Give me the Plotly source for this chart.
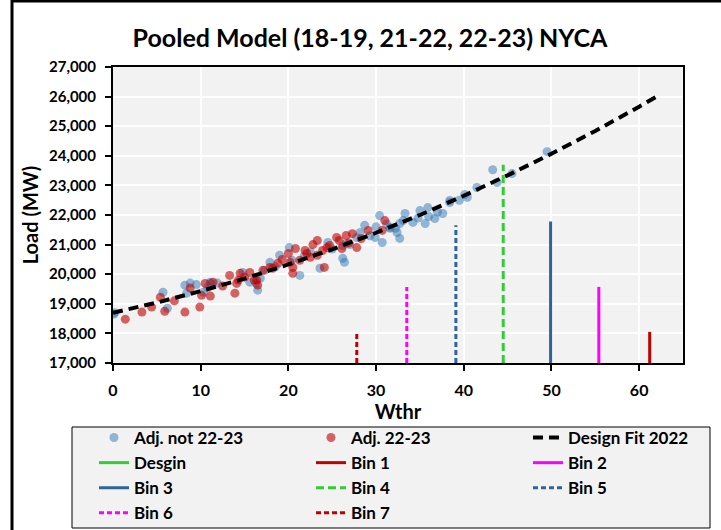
import plotly.graph_objects as go

# ---- data ----
blue_x = [0.2, 0.1, 5.7, 6.2, 8.2, 8.8, 8.4, 9.5, 10.3, 10.8, 11.1, 11.9, 11.1, 14.8, 16.5, 16.3,
          15.6, 16.8, 17.3, 17.9, 18.5, 19.0, 20.1, 20.4, 21.3, 21.8, 22.5, 23.6, 24.5, 25.0,
          26.2, 26.4, 26.2, 26.6, 27.0, 27.8, 28.2, 28.7, 29.3, 29.9, 30.0, 30.4, 30.7, 31.2,
          31.6, 31.6, 32.2, 32.4, 32.7, 32.7, 33.1, 33.3, 34.2, 34.8, 35.0, 35.6, 35.9, 36.0,
          36.7, 37.0, 37.6, 38.4, 38.4, 39.5, 40.1, 40.4, 41.5, 43.3, 43.8, 45.5, 49.5]
blue_y = [18700, 18650, 19390, 18850, 19630, 19700, 19360, 19650, 19390, 19550, 19690, 19700, 19730,
          20060, 19460, 19700, 19730, 19860, 20130, 20400, 20250, 20640, 20900, 20470, 19960, 20600,
          20750, 20200, 21070, 20850, 20970, 20400, 20540, 21040, 21000, 21240, 21410, 21650, 21300,
          21240, 21600, 21980, 21070, 21700, 21550, 21580, 21550, 21410, 21710, 21210, 21810, 22050,
          21750, 21900, 22150, 21710, 22250, 21950, 21880, 22100, 22050, 22420, 22490, 22500, 22690,
          22600, 22930, 23530, 23100, 23400, 24140]

red_x = [1.4, 3.3, 4.4, 5.4, 5.9, 7.0, 8.2, 8.8, 9.9, 10.5, 10.1, 11.1, 11.4, 12.5, 13.3, 13.9,
         14.1, 14.3, 14.5, 15.0, 15.6, 16.1, 16.4, 16.5, 17.1, 17.9, 18.2, 18.8, 19.3, 20.0, 20.2,
         20.5, 20.5, 20.8, 21.3, 21.9, 22.1, 22.5, 22.8, 23.3, 23.3, 23.9, 24.1, 24.7, 24.4, 25.5,
         25.8, 26.1, 26.6, 26.9, 27.3, 27.8, 28.3, 29.1, 30.7, 31.0]
red_y = [18480, 18720, 18890, 19220, 18750, 19100, 18720, 19530, 18890, 19690, 19290, 19260, 19730,
         19600, 19960, 19360, 19690, 19800, 20030, 19900, 20060, 19800, 19800, 19630, 20130, 20230,
         20200, 20370, 20500, 20700, 20400, 20030, 20230, 20870, 20470, 20800, 20700, 20570, 21000,
         21140, 20640, 20800, 20230, 20970, 20900, 21240, 21140, 20870, 21310, 21050, 21370, 20900,
         21200, 21480, 21480, 21810]

fit_x = [0, 5, 10, 15, 20, 25, 30, 35, 40, 45, 50, 55, 60, 62]
fit_y = [18700, 19040, 19430, 19850, 20330, 20840, 21400, 22000, 22650, 23340, 24070, 24840, 25660, 26000]

bin_names = ["Desgin", "Bin 1", "Bin 2", "Bin 3", "Bin 4", "Bin 5", "Bin 6", "Bin 7"]
bin_x = [44.5, 61.2, 55.4, 49.9, 44.5, 39.1, 33.5, 27.8]
bin_top = [17050, 18050, 19570, 21780, 23700, 21650, 19570, 18050]
bin_bottom = 17000

x_ticks = [0, 10, 20, 30, 40, 50, 60]
y_ticks = [17000, 18000, 19000, 20000, 21000, 22000, 23000, 24000, 25000, 26000, 27000]

# ---- styles ----
bin_colors = ["#33cc33", "#c00000", "#ff00ff", "#2f6497", "#33cc33", "#2f6497", "#ff00ff", "#c00000"]
bin_dash = ["solid", "solid", "solid", "solid", "8px,4px", "5px,3px", "5px,3px", "5px,3px"]
bin_col = [0, 1, 2, 0, 1, 2, 0, 1]
COLW = [172, 172, 135]

FONT = "Lato"

def b(t):
    return f"<b>{t}</b>"

fig = go.Figure()
fig.add_trace(go.Scatter(x=blue_x, y=blue_y, mode="markers", name=b("Adj. not 22-23"),
                         legendwidth=COLW[0],
                         marker=dict(size=9, color="rgba(46,117,182,0.5)", line=dict(width=0))))
fig.add_trace(go.Scatter(x=red_x, y=red_y, mode="markers", name=b("Adj. 22-23"),
                         legendwidth=COLW[1],
                         marker=dict(size=9, color="rgba(192,0,0,0.6)", line=dict(width=0))))
fig.add_trace(go.Scatter(x=fit_x, y=fit_y, mode="lines", name=b("Design Fit 2022"),
                         legendwidth=COLW[2],
                         line=dict(color="black", width=4, dash="10px,6px")))
for n, bx, bt, c, d, col in zip(bin_names, bin_x, bin_top, bin_colors, bin_dash, bin_col):
    fig.add_trace(go.Scatter(x=[bx, bx], y=[bin_bottom, bt], mode="lines", name=b(n),
                             legendwidth=COLW[col],
                             line=dict(color=c, width=3, dash=d)))

L, R, T, B = 113, 38, 67, 167
W, H = 721, 530
pw, ph = W - L - R, H - T - B

def px_x(p):
    return (p - L) / pw

def px_y(p):
    return (H - B - p) / ph

fig.update_layout(
    width=W, height=H,
    margin=dict(l=L, r=R, t=T, b=B, autoexpand=False),
    paper_bgcolor="white",
    plot_bgcolor="#f2f2f2",
    font=dict(family=FONT, color="black"),
    title=dict(text=b("Pooled Model (18-19, 21-22, 22-23) NYCA"),
               x=370 / W, xanchor="center", y=1 - 38 / H, yanchor="middle",
               font=dict(size=25, family=FONT, color="black")),
    showlegend=True,
    legend=dict(orientation="h", x=px_x(94), xanchor="left", y=px_y(420), yanchor="top",
                bgcolor="rgba(0,0,0,0)", borderwidth=0,
                font=dict(size=17, family=FONT, color="black"), traceorder="normal"),
    shapes=[
        dict(type="rect", xref="paper", yref="paper",
             x0=px_x(12), x1=px_x(730), y0=px_y(540), y1=px_y(1),
             line=dict(color="black", width=3), layer="below"),
        dict(type="rect", xref="paper", yref="paper",
             x0=px_x(72), x1=px_x(710), y0=px_y(528), y1=px_y(427),
             fillcolor="#f2f2f2", line=dict(color="black", width=1), layer="below"),
    ],
)

fig.update_xaxes(range=[0, 65], tickvals=x_ticks, ticktext=[b(v) for v in x_ticks],
                 showgrid=True, gridcolor="white", gridwidth=2, zeroline=False,
                 showline=True, linecolor="black", linewidth=2, mirror=True,
                 ticks="outside", ticklen=6, tickwidth=2, tickcolor="black",
                 ticklabelstandoff=6,
                 tickfont=dict(size=16, family=FONT, color="black"),
                 title=dict(text=b("Wthr"), font=dict(size=20, family=FONT, color="black"), standoff=2))
fig.update_yaxes(range=[17000, 27000], tickvals=y_ticks,
                 ticktext=[b(f"{v:,}") for v in y_ticks],
                 showgrid=True, gridcolor="white", gridwidth=2, zeroline=False,
                 showline=True, linecolor="black", linewidth=2, mirror=True,
                 ticks="outside", ticklen=6, tickwidth=2, tickcolor="black",
                 ticklabelstandoff=6,
                 tickfont=dict(size=15, family=FONT, color="black"),
                 title=dict(text=b("Load (MW)"), font=dict(size=20, family=FONT, color="black"), standoff=5))

fig.write_html("out.html")
